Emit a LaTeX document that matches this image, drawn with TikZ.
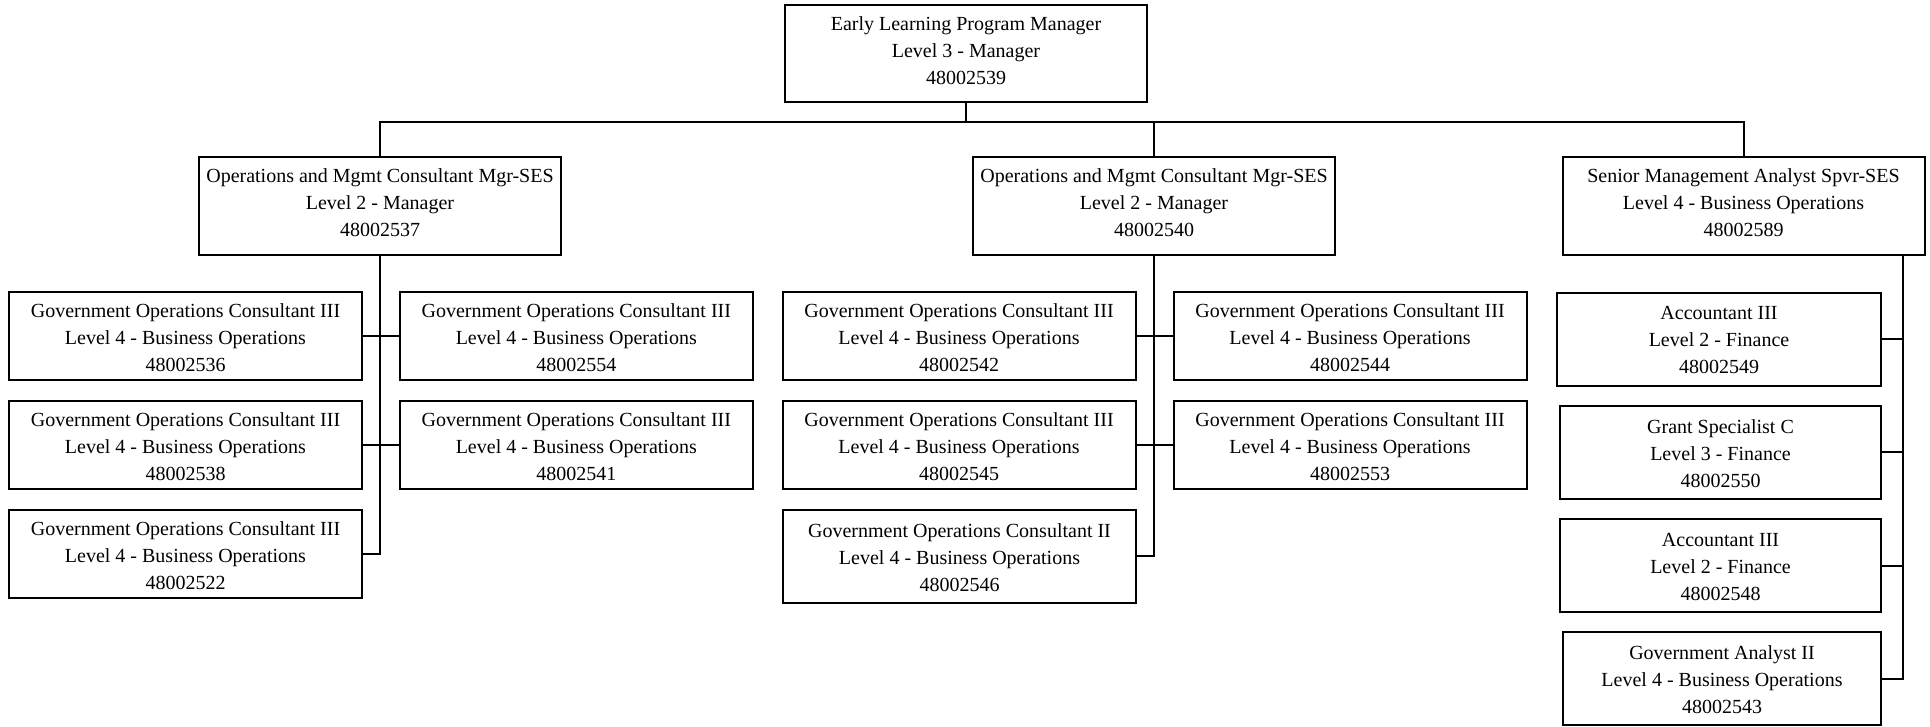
\documentclass[tikz,border=0pt]{standalone}
\usepackage{fontspec}
\setmainfont{Liberation Serif}
\usetikzlibrary{calc}
\newcommand\orgfont{\fontsize{20}{27}\selectfont}
\begin{document}
\begin{tikzpicture}[x=1pt,y=-1pt,
  post/.style={draw=black, line width=2pt, fill=white, inner sep=0pt},
  txt/.style={align=center, font=\orgfont, inner sep=0pt},
  % box kinds, each with its own text offset
  wide/.style={post, minimum width=362pt, minimum height=97pt,
    label={[txt, yshift=3pt]center:{#1}}},
  mgr/.style={post, minimum width=362pt, minimum height=98pt,
    label={[txt, yshift=3.2pt]center:{#1}}},
  staff/.style={post, minimum width=353pt, minimum height=88pt,
    label={[txt, yshift=-1.7pt]center:{#1}}},
  fin/.style={post, minimum width=324pt, minimum height=93pt,
    label={[txt, yshift=-1.3pt]center:{#1}}},
  link/.style={draw=black, line width=2pt}]
\useasboundingbox (0,0) rectangle (1930,726);

% top of the unit
\node[wide={Early Learning Program Manager\\Level 3 - Manager\\48002539}] (pm) at (966,53.5) {};

% second level
\node[mgr={Operations and Mgmt Consultant Mgr-SES\\Level 2 - Manager\\48002537}] (mA) at (380,205.5) {};
\node[mgr={Operations and Mgmt Consultant Mgr-SES\\Level 2 - Manager\\48002540}] (mB) at (1154,205.5) {};
\node[mgr={Senior Management Analyst Spvr-SES\\Level 4 - Business Operations\\48002589}] (sa) at (1743.5,205.5) {};

% staff under 48002537
\node[staff={Government Operations Consultant III\\Level 4 - Business Operations\\48002536}] (a1) at (185.5,335.5) {};
\node[staff={Government Operations Consultant III\\Level 4 - Business Operations\\48002554}] (a2) at (576.3,335.5) {};
\node[staff={Government Operations Consultant III\\Level 4 - Business Operations\\48002538}] (a3) at (185.5,444.5) {};
\node[staff={Government Operations Consultant III\\Level 4 - Business Operations\\48002541}] (a4) at (576.3,444.5) {};
\node[staff={Government Operations Consultant III\\Level 4 - Business Operations\\48002522}] (a5) at (185.5,553.5) {};

% staff under 48002540
\node[staff={Government Operations Consultant III\\Level 4 - Business Operations\\48002542}] (b1) at (959,335.5) {};
\node[staff={Government Operations Consultant III\\Level 4 - Business Operations\\48002544}] (b2) at (1350,335.5) {};
\node[staff={Government Operations Consultant III\\Level 4 - Business Operations\\48002545}] (b3) at (959,444.5) {};
\node[staff={Government Operations Consultant III\\Level 4 - Business Operations\\48002553}] (b4) at (1350,444.5) {};
\node[staff={Government Operations Consultant II\\Level 4 - Business Operations\\48002546}, minimum height=93pt] (b5) at (959.5,556) {};

% staff under 48002589
\node[fin={Accountant III\\Level 2 - Finance\\48002549}] (c1) at (1719,339) {};
\node[fin={Grant Specialist C\\Level 3 - Finance\\48002550}, minimum width=321pt] (c2) at (1720.5,452) {};
\node[fin={Accountant III\\Level 2 - Finance\\48002548}, minimum width=321pt] (c3) at (1720.5,565.5) {};
\node[fin={Government Analyst II\\Level 4 - Business Operations\\48002543}, minimum width=318pt] (c4) at (1722,678.5) {};

% connectors from the program manager
\draw[link] (pm.south) -- ++(0,19) coordinate (bus);
\draw[link] (mA.north) |- (bus) -| (sa.north);
\draw[link] (bus -| mB.north) -- (mB.north);

% connectors for 48002537
\draw[link] (mA.south) |- (a5.east);
\draw[link] (a1.east) -- (a2.west);
\draw[link] (a3.east) -- (a4.west);

% connectors for 48002540
\draw[link] (mB.south) |- (b5.east);
\draw[link] (b1.east) -- (b2.west);
\draw[link] (b3.east) -- (b4.west);

% connectors for 48002589
\coordinate (rx) at ($(sa.south east)+(-23,0)$);
\draw[link] (rx) |- (c4.east);
\draw[link] (c1.east) -- (c1.east -| rx);
\draw[link] (c2.east) -- (c2.east -| rx);
\draw[link] (c3.east) -- (c3.east -| rx);
\end{tikzpicture}
\end{document}
